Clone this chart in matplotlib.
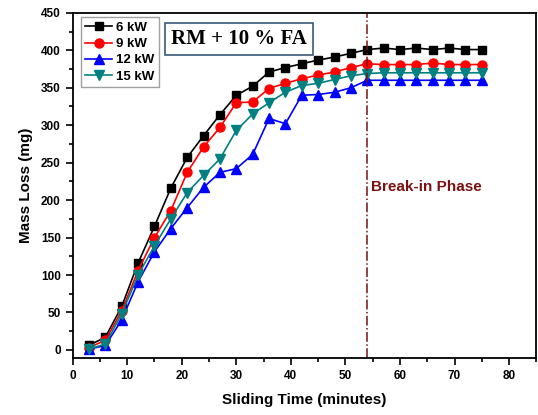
import matplotlib
matplotlib.use("Agg")
import matplotlib.pyplot as plt
from matplotlib.ticker import MultipleLocator

time = [3, 6, 9, 12, 15, 18, 21, 24, 27, 30, 33, 36, 39, 42, 45, 48, 51, 54, 57, 60, 63, 66, 69, 72, 75]
kw6 = [6, 17, 58, 116, 165, 216, 257, 286, 314, 340, 352, 371, 377, 382, 387, 391, 396, 401, 403, 401, 403, 401, 403, 401, 401]
kw9 = [3, 13, 52, 106, 150, 186, 237, 271, 297, 330, 331, 349, 356, 362, 367, 371, 377, 382, 381, 381, 381, 383, 381, 381, 381]
kw12 = [1, 6, 40, 91, 131, 162, 190, 217, 237, 242, 261, 309, 302, 340, 341, 344, 350, 360, 360, 360, 360, 360, 360, 360, 360]
kw15 = [1, 8, 48, 100, 139, 175, 210, 233, 255, 293, 315, 330, 344, 353, 356, 361, 366, 369, 370, 370, 370, 370, 370, 370, 370]
labels = ["6 kW", "9 kW", "12 kW", "15 kW"]
break_in = 54

plt.rcParams['font.family'] = ['Liberation Sans', 'DejaVu Sans']
fig = plt.figure(figsize=(5.38, 4.15), dpi=100)
ax = fig.add_axes([0.135, 0.137, 0.862, 0.832])

ax.plot(time, kw6, color='black', marker='s', ms=6, lw=1.2, label=labels[0])
ax.plot(time, kw9, color='#ff0000', marker='o', ms=6.5, lw=1.2, label=labels[1])
ax.plot(time, kw12, color='#0000ff', marker='^', ms=7, lw=1.2, label=labels[2])
ax.plot(time, kw15, color='#008080', marker='v', ms=7, lw=1.2, label=labels[3])

ax.axvline(break_in, color='#7b1010', ls='-.', lw=1.1)
ax.text(break_in + 0.6, 218, "Break-in Phase", color='#7b1010', fontsize=11, fontweight='bold', va='center', ha='left')

ax.text(0.212, 0.925, "RM + 10 % FA", transform=ax.transAxes, fontsize=15, fontweight='bold',
        family='Liberation Serif', va='center', ha='left',
        bbox=dict(boxstyle='square,pad=0.3', fc='white', ec='#3a5a7a', lw=1.2))

leg = ax.legend(loc='upper left', bbox_to_anchor=(0.012, 0.995), fontsize=9.5, frameon=True, fancybox=False,
                edgecolor='#888888', handlelength=2.0, borderpad=0.35, labelspacing=0.3, handletextpad=0.35,
                borderaxespad=0.2)
for t in leg.get_texts():
    t.set_fontweight('bold')
leg.get_frame().set_linewidth(1.0)

ax.set_xlim(0, 85)
ax.set_ylim(-11, 450)
ax.xaxis.set_major_locator(MultipleLocator(10))
ax.xaxis.set_minor_locator(MultipleLocator(5))
ax.yaxis.set_major_locator(MultipleLocator(50))
ax.yaxis.set_minor_locator(MultipleLocator(25))
ax.tick_params(which='both', direction='out', labelsize=8.5, width=1.2)
ax.tick_params(which='major', length=5)
ax.tick_params(which='minor', length=3)
ax.tick_params(top=False, right=False)
for lab in ax.get_xticklabels() + ax.get_yticklabels():
    lab.set_fontweight('bold')
for s in ax.spines.values():
    s.set_linewidth(1.3)

ax.set_xlabel("Sliding Time (minutes)", fontsize=11, fontweight='bold', labelpad=8)
ax.set_ylabel("Mass Loss (mg)", fontsize=11, fontweight='bold', labelpad=6)

fig.savefig("out.png", dpi=100)
